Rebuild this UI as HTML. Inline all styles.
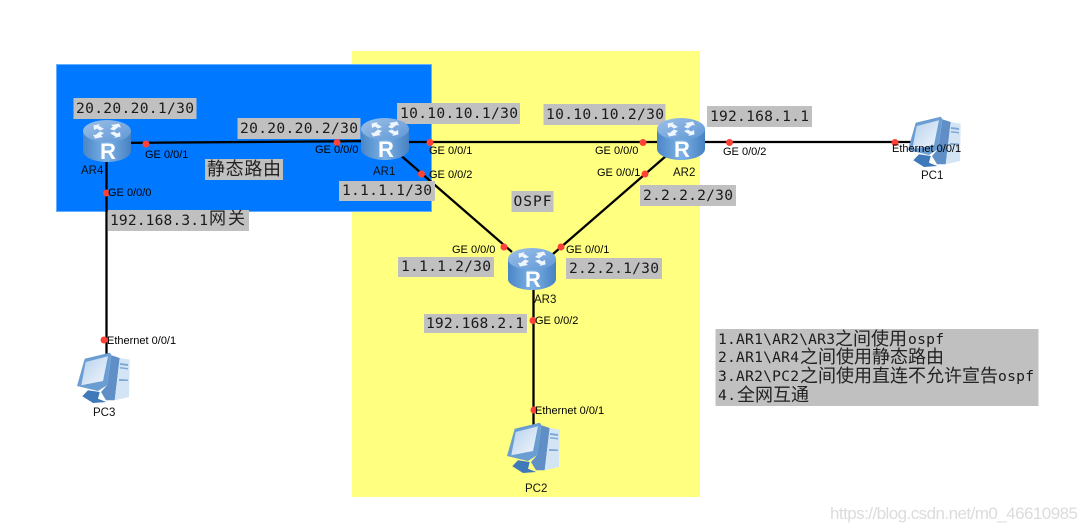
<!DOCTYPE html>
<html><head><meta charset="utf-8"><style>
html,body{margin:0;padding:0;background:#fff;width:1087px;height:532px;overflow:hidden}
svg{display:block}
.m{font-family:"DejaVu Sans Mono","Liberation Mono","Noto Sans CJK SC",monospace;font-size:14.6px;fill:#1a1a1a}
.c{font-family:"Noto Sans CJK SC","WenQuanYi Zen Hei",sans-serif;font-size:18px;fill:#222}
.s{font-family:"Liberation Sans",sans-serif;font-size:11px;fill:#000}
.d{font-family:"Liberation Sans",sans-serif;font-size:11.5px;fill:#111}
.g{fill:#c0c0c0}
.r{fill:#ff4238}
.l{stroke:#000;stroke-width:2.300;fill:none}
</style></head><body>
<svg width="1087" height="532" viewBox="0 0 1087 532" xmlns="http://www.w3.org/2000/svg">
<defs>
<linearGradient id="b" x1="0" x2="1" y1="0" y2="0"><stop offset="0" stop-color="#4a86c6"/><stop offset=".5" stop-color="#7db2e6"/><stop offset="1" stop-color="#4681c2"/></linearGradient>
<linearGradient id="t" x1="0" x2="1" y1="0" y2="1"><stop offset="0" stop-color="#9cc0e8"/><stop offset="1" stop-color="#5f97d6"/></linearGradient>
<linearGradient id="sc" x1="0" x2="1" y1="0" y2="1"><stop offset="0" stop-color="#b5d0ec"/><stop offset="1" stop-color="#f2f7fd"/></linearGradient>
<g id="router">
<path d="M0 11V31C0 37 11 42 24 42S48 37 48 31V11Z" fill="url(#b)"/>
<ellipse cx="24" cy="11" rx="24" ry="11" fill="url(#t)"/>
<g fill="#f0f6fd">
<path d="M21 9L17 10.500L14 8.500L11 10L10.500 5.500L17 4L15.500 5.500L18 7Z"/>
<path d="M27 13L31 11.500L34 13.500L37 12L37.500 16.500L31 18L32.500 16.500L30 15Z"/>
<path d="M27 9L30 6.500L28 5L36 3.500L38 7.500L35.500 7L31 10.500Z"/>
<path d="M21 13L18 15.500L20 17L12 18.500L10 14.500L12.500 15L17 11.500Z"/>
</g>
</g>
<g id="pc">
<path d="M11 38.300L22.700 40L21 46.700L29.300 50L16 51L5.300 44.300Z" fill="#3f79ba"/>
<path d="M34.300 3.300L42.700 6L37.700 48.300L29 48.300L24 40L30 33.300Z" fill="#5f8fc6"/>
<path d="M42.700 6L52.700 7.700L52 45L37.700 48.300Z" fill="#d3e4f4"/>
<path d="M43 11L51 12V14L43 13ZM43 15L51 16V17.500L43 16.500ZM42 27L51 27.500V29L42 29Z" fill="#7fa8d4"/>
<path d="M7.700 6.700L32.700 .7L34.300 2.700L30 33.300L21 39L0 34Z" fill="#6a9dd2"/>
<path d="M8.700 10L31 4.300L26 29L4.300 33.300Z" fill="url(#sc)"/>
</g>
</defs>

<rect width="1087" height="532" fill="#fff"/>
<rect x="352" y="51" width="348" height="446" fill="#ffff80"/>
<rect x="56.500" y="64.500" width="375" height="147" fill="#0078ff" stroke="#66aeff" stroke-width="1"/>

<path class="l" d="M107 143L385 141"/>
<path class="l" d="M385 142H912"/>
<path class="l" d="M398 153L512 252"/>
<path class="l" d="M666 156L553 254"/>
<path class="l" d="M533.500 285V425"/>
<path class="l" d="M106.500 160V355"/>

<rect class="g" x="73.500" y="98" width="123" height="21"/>
<rect class="g" x="237.500" y="118" width="123" height="21"/>
<rect class="g" x="397" y="103" width="123" height="21"/>
<rect class="g" x="543.500" y="104" width="122" height="21"/>
<rect class="g" x="707" y="106" width="105" height="21"/>
<rect class="g" x="339" y="181" width="96" height="20"/>
<rect class="g" x="205" y="159" width="78" height="21"/>
<rect class="g" x="108" y="210" width="141" height="21"/>
<rect class="g" x="511.500" y="191" width="42" height="21"/>
<rect class="g" x="640" y="185" width="96" height="21"/>
<rect class="g" x="398" y="257" width="96" height="20"/>
<rect class="g" x="566" y="258" width="96" height="21"/>
<rect class="g" x="424" y="314" width="103" height="19"/>
<rect class="g" x="715.500" y="329" width="323" height="77"/>

<use href="#router" x="83" y="120"/>
<use href="#router" x="361" y="118"/>
<use href="#router" x="657" y="118"/>
<use href="#router" x="508" y="248"/>
<g font-family="Liberation Sans, sans-serif" font-size="22" font-weight="bold" fill="#fff" text-anchor="middle">
<text x="108" y="159">R</text><text x="386" y="157">R</text><text x="682" y="157">R</text><text x="533" y="287">R</text>
</g>
<use href="#pc" x="908" y="116"/>
<use href="#pc" x="77" y="352"/>
<use href="#pc" x="507" y="422"/>

<g class="r">
<circle cx="146" cy="144" r="3.500"/><circle cx="337" cy="142.500" r="3.500"/><circle cx="106.500" cy="193" r="3.500"/>
<circle cx="430" cy="142.500" r="3.500"/><circle cx="643" cy="142.500" r="3.500"/><circle cx="421.500" cy="174" r="3.500"/>
<circle cx="645" cy="174" r="3.500"/><circle cx="504" cy="247" r="3.500"/><circle cx="561" cy="247" r="3.500"/>
<circle cx="729.500" cy="142.500" r="3.500"/><circle cx="895" cy="142.500" r="3.500"/><circle cx="533" cy="320.500" r="3.500"/>
<circle cx="534" cy="410" r="3.500"/><circle cx="104" cy="340" r="3.500"/>
</g>

<g class="m">
<text x="76" y="113" textLength="118">20.20.20.1/30</text>
<text x="240" y="133" textLength="118">20.20.20.2/30</text>
<text x="400" y="118" textLength="118">10.10.10.1/30</text>
<text x="546" y="119" textLength="118">10.10.10.2/30</text>
<text x="710" y="121" textLength="99">192.168.1.1</text>
<text x="342" y="195" textLength="90">1.1.1.1/30</text>
<text x="643" y="200" textLength="90">2.2.2.2/30</text>
<text x="401" y="271" textLength="90">1.1.1.2/30</text>
<text x="569" y="273" textLength="90">2.2.2.1/30</text>
<text x="426" y="328" textLength="98">192.168.2.1</text>
<text x="513.500" y="206" textLength="38">OSPF</text>
<text x="110" y="225" textLength="98">192.168.3.1</text>
<text x="718" y="344" textLength="117">1.AR1\AR2\AR3</text>
<text x="908" y="344" textLength="36">ospf</text>
<text x="718" y="362" textLength="81">2.AR1\AR4</text>
<text x="718" y="381" textLength="81">3.AR2\PC2</text>
<text x="998" y="381" textLength="36">ospf</text>
<text x="718" y="400" textLength="18">4.</text>
</g>
<g class="c">
<text x="207" y="175" textLength="74">静态路由</text>
<text x="209" y="224" textLength="36" font-size="17">网关</text>
<text x="835" y="345" textLength="72">之间使用</text>
<text x="800" y="363" textLength="144">之间使用静态路由</text>
<text x="800" y="382" textLength="198">之间使用直连不允许宣告</text>
<text x="737" y="401" textLength="72">全网互通</text>
</g>

<g class="s">
<text x="145" y="158">GE 0/0/1</text>
<text x="315" y="153">GE 0/0/0</text>
<text x="108" y="196">GE 0/0/0</text>
<text x="429" y="154">GE 0/0/1</text>
<text x="429" y="178">GE 0/0/2</text>
<text x="595" y="154">GE 0/0/0</text>
<text x="597" y="176">GE 0/0/1</text>
<text x="723" y="155">GE 0/0/2</text>
<text x="452" y="253">GE 0/0/0</text>
<text x="566" y="253">GE 0/0/1</text>
<text x="535" y="324">GE 0/0/2</text>
<text x="892" y="152">Ethernet 0/0/1</text>
<text x="535" y="414">Ethernet 0/0/1</text>
<text x="107" y="344">Ethernet 0/0/1</text>
</g>
<g class="d">
<text x="81" y="174">AR4</text>
<text x="373" y="175">AR1</text>
<text x="673" y="176">AR2</text>
<text x="534" y="303">AR3</text>
<text x="921" y="179">PC1</text>
<text x="93" y="416">PC3</text>
<text x="525" y="492">PC2</text>
</g>
<text x="830" y="519" font-family="Liberation Sans, sans-serif" font-size="17" fill="#dcdcdc" textLength="248">https://blog.csdn.net/m0_46610985</text>
</svg>
</body></html>
